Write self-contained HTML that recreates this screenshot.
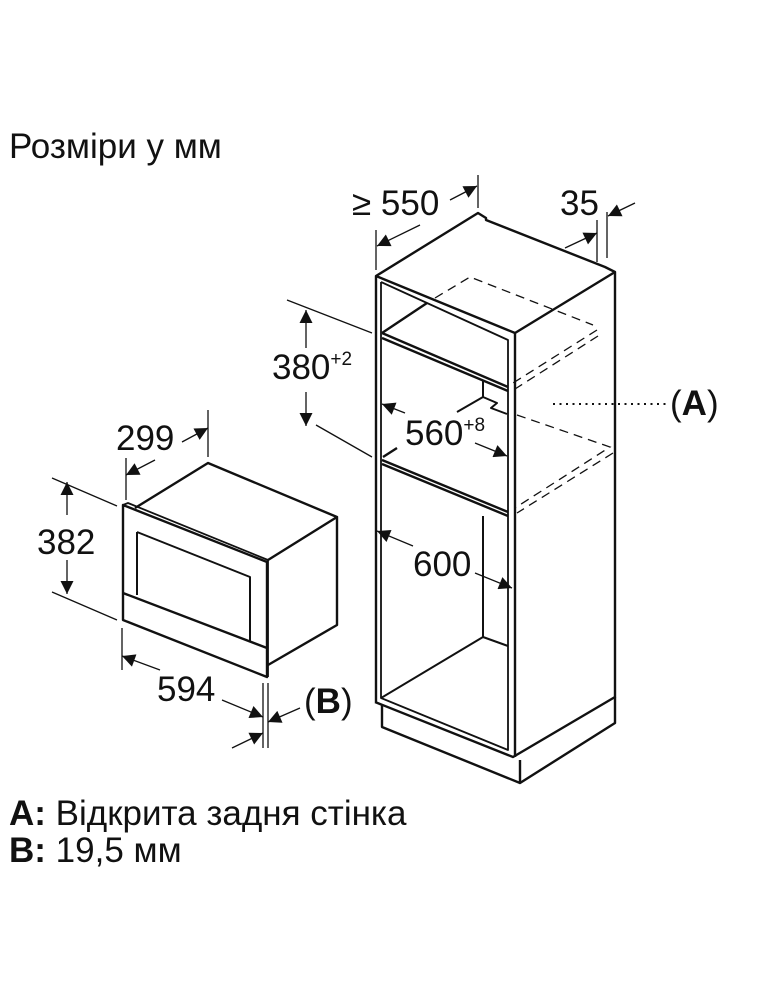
<!DOCTYPE html>
<html><head><meta charset="utf-8"><style>
html,body{margin:0;padding:0;background:#fff}
svg{display:block}
text{font-family:"Liberation Sans",Arial,sans-serif;fill:#111}
</style></head><body>
<svg width="760" height="1000" viewBox="0 0 760 1000" xmlns="http://www.w3.org/2000/svg">
<defs>
<marker id="ar" viewBox="0 0 10 10" refX="10" refY="5" markerWidth="17" markerHeight="13" markerUnits="userSpaceOnUse" orient="auto">
<path d="M0,0 L10,5 L0,10 z" fill="#111"/></marker>
</defs>
<text x="9" y="158" font-size="35">Розміри у мм</text>

<g stroke="#111" fill="none" stroke-width="2.4" stroke-linejoin="round">
<path d="M376,702 L376,276 L478,213 L486,218 L486,220 L605,267 L615,272 L615,697 L513,757 L375,702"/>
<path d="M376,276 L515,333 L615,272"/>
<path d="M515,333 L515,757"/>
<path d="M381,282 L381,698 L508,750 L508,340 L381,282" stroke-width="1.8"/>
<path d="M382,704 L382,727 L520,783 L615,723 L615,697"/>
<path d="M520,760 L520,783"/>
<path d="M382,333 L508,387 M382,338 L508,391 M382,333 L427,303"/>
<path d="M382,460 L508,512 M382,464 L508,516 M383,457 L397,448"/>
<path d="M483,380 L483,397 L457,412 M483,397 L497,403 L491,408 L507,414" stroke-width="2"/>
<path d="M483,516 L483,637 L381,698 M483,637 L508,646" stroke-width="2"/>
<path d="M123,505 L123,620 L267,677 L267,562 L123,505 z"/>
<path d="M123,505 L128,503 L268,560 L268,677" stroke-width="1.8"/>
<path d="M135,508 L208,463 L337,517 L268,560 M337,517 L337,625 L268,665"/>
<path d="M137,532 L137,595 M137,532 L250,577 L250,642" stroke-width="2"/>
<path d="M123,593 L267,648"/>
</g>

<g stroke="#111" fill="none" stroke-width="1.3" stroke-dasharray="9,6">
<path d="M435,298 L470,277 L593,325 M597,330 L513,383 M598,336 L515,389"/>
<path d="M517,415 L610,447 L515,508 M613,453 L517,513"/>
</g>
<g stroke="#111" fill="none" stroke-width="1.3">
<path d="M287,300 L372,333 M316,425 L372,457"/>
<path d="M376,230 L376,270 M478,175 L478,208 M597,220 L597,262 M607,212 L607,258"/>
<path d="M52,478 L117,506 M52,592 L117,620"/>
<path d="M126,458 L126,500 M208,410 L208,457 M122,628 L122,670 M263,683 L263,748 M268,683 L268,748"/>
<path d="M306,348 L306,310" marker-end="url(#ar)"/>
<path d="M306,392 L306,426" marker-end="url(#ar)"/>
<path d="M420,225 L377,246" marker-end="url(#ar)"/>
<path d="M450,200 L477,186" marker-end="url(#ar)"/>
<path d="M565,248 L597,233" marker-end="url(#ar)"/>
<path d="M635,203 L608,216" marker-end="url(#ar)"/>
<path d="M405,413 L382,404" marker-end="url(#ar)"/>
<path d="M475,443 L507,456" marker-end="url(#ar)"/>
<path d="M413,546 L377,531" marker-end="url(#ar)"/>
<path d="M475,573 L512,588" marker-end="url(#ar)"/>
<path d="M67,515 L67,482" marker-end="url(#ar)"/>
<path d="M67,560 L67,594" marker-end="url(#ar)"/>
<path d="M155,460 L126,475" marker-end="url(#ar)"/>
<path d="M182,442 L208,428" marker-end="url(#ar)"/>
<path d="M160,670 L122,656" marker-end="url(#ar)"/>
<path d="M222,700 L263,717" marker-end="url(#ar)"/>
<path d="M300,708 L268,722" marker-end="url(#ar)"/>
<path d="M232,748 L263,733" marker-end="url(#ar)"/>
<path d="M553,404 L667,404" stroke-dasharray="2,4.5" stroke-width="2"/>
</g>

<g font-size="35">
<text x="352" y="215">≥ 550</text>
<text x="560" y="215">35</text>
<text x="272" y="379">380<tspan font-size="19" dy="-14">+2</tspan></text>
<text x="405" y="445">560<tspan font-size="19" dy="-14">+8</tspan></text>
<text x="413" y="576">600</text>
<text x="670" y="415">(<tspan font-weight="bold">A</tspan>)</text>
<text x="116" y="450">299</text>
<text x="37" y="554">382</text>
<text x="157" y="701">594</text>
<text x="304" y="713">(<tspan font-weight="bold">B</tspan>)</text>
<text x="9" y="825"><tspan font-weight="bold">A:</tspan> Відкрита задня стінка</text>
<text x="9" y="862"><tspan font-weight="bold">B:</tspan> 19,5 мм</text>
</g>
</svg>
</body></html>
